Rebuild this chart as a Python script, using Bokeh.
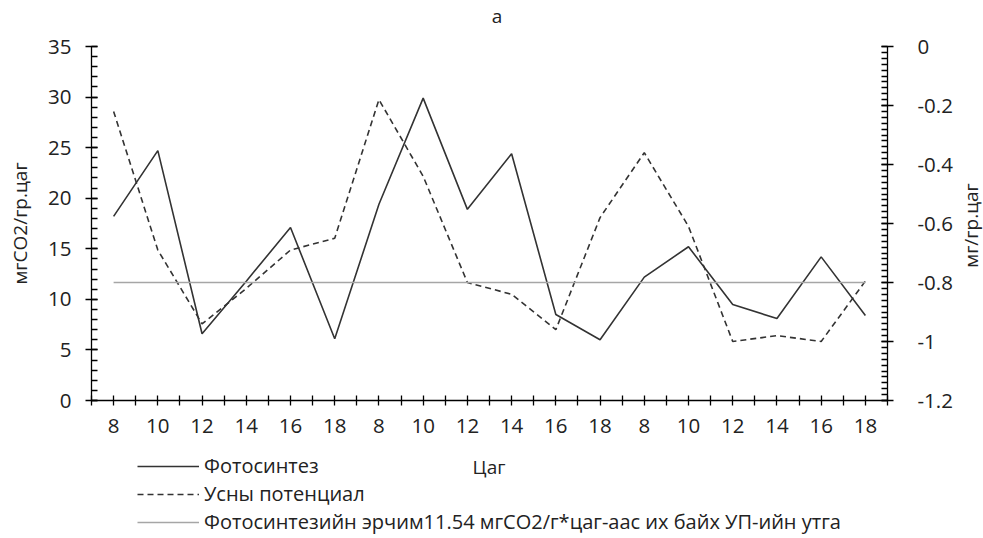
import math
import numpy as np
from bokeh.plotting import figure
from bokeh.layouts import column, row
from bokeh.models import (Range1d, LinearAxis, FixedTicker, CustomJSTickFormatter,
                          Legend, LegendItem, Label)
from bokeh.embed import file_html
from bokeh.resources import INLINE

# ---------------- data ----------------
hour_labels = ["8", "10", "12", "14", "16", "18",
               "8", "10", "12", "14", "16", "18",
               "8", "10", "12", "14", "16", "18"]
photosynthesis = [18.2, 24.7, 6.6, 11.8, 17.1, 6.1,
                  19.4, 29.9, 18.9, 24.4, 8.5, 6.0,
                  12.2, 15.2, 9.5, 8.1, 14.2, 8.4]
water_potential = [-0.22, -0.69, -0.94, -0.82, -0.69, -0.65,
                   -0.18, -0.44, -0.80, -0.84, -0.96, -0.58,
                   -0.36, -0.61, -1.00, -0.98, -1.00, -0.795]
threshold_wp = -0.8
left_ticks = [0, 5, 10, 15, 20, 25, 30, 35]
right_ticks = [0, -0.2, -0.4, -0.6, -0.8, -1.0, -1.2]

title_text = "а"
x_title = "Цаг"
left_title = "мгCO2/гр.цаг"
right_title = "мг/гр.цаг"
legend_labels = ["Фотосинтез", "Усны потенциал",
                 "Фотосинтезийн эрчим11.54 мгCO2/г*цаг-аас их байх УП-ийн утга"]

FONT = "Open Sans"
FS = "19px"
LFS = "20px"
TFS = "20.5px"
TXT = "#222222"
LINE = "#333333"
GRAY = "#a6a6a6"
DASH = "6 4"

n = len(hour_labels)
xs = np.arange(n) + 0.5


def strip(width, height, xr, yr):
    f = figure(width=width, height=height, output_backend="svg", toolbar_location=None,
               x_range=Range1d(*xr), y_range=Range1d(*yr),
               x_axis_location=None, y_axis_location=None, min_border=0,
               outline_line_color=None, background_fill_color="white",
               border_fill_color="white")
    f.xgrid.visible = False
    f.ygrid.visible = False
    return f


# ---------------- strip on top: chart title ----------------
t = strip(955, 28, (91, 890), (28, 0))
t.add_layout(Label(x=498, y=15, text=title_text, text_font=FONT, text_font_size=FS,
                   text_color=TXT, text_align="center", text_baseline="middle"))

# ---------------- main chart ----------------
p = figure(width=955, height=420, output_backend="svg", toolbar_location=None,
           x_range=Range1d(0, n), y_range=Range1d(0, 35),
           min_border_left=91, min_border_right=65, min_border_top=18,
           min_border_bottom=48, outline_line_color=None,
           background_fill_color="white", border_fill_color="white")
p.xgrid.visible = False
p.ygrid.visible = False
p.extra_y_ranges = {"wp": Range1d(-1.2, 0)}

p.line(xs, photosynthesis, line_color=LINE, line_width=1.6)
p.line(xs, water_potential, y_range_name="wp", line_color=LINE,
       line_width=1.6, line_dash=DASH)
p.line(xs, [threshold_wp] * n, y_range_name="wp", line_color=GRAY, line_width=1.6)


def style_axis(ax):
    ax.axis_line_color = "black"
    ax.axis_line_width = 1.3
    ax.major_tick_line_color = "black"
    ax.major_tick_line_width = 1.3
    ax.minor_tick_line_color = "black"
    ax.minor_tick_line_width = 1.3
    ax.major_label_text_font = FONT
    ax.major_label_text_font_size = TFS
    ax.major_label_text_color = TXT
    ax.axis_label_text_font = FONT
    ax.axis_label_text_font_size = FS
    ax.axis_label_text_font_style = "normal"
    ax.axis_label_text_color = TXT


# x axis
xa = p.xaxis[0]
xa.ticker = FixedTicker(ticks=list(xs), minor_ticks=list(range(0, n + 1)))
xa.formatter = CustomJSTickFormatter(
    args=dict(labels=hour_labels),
    code="const i = Math.floor(tick); return (i >= 0 && i < labels.length) ? labels[i] : '';")
style_axis(xa)
xa.major_tick_in = 5
xa.major_tick_out = 5
xa.minor_tick_in = 5
xa.minor_tick_out = 5
xa.major_label_standoff = 13

# left axis
ya = p.yaxis[0]
ya.ticker = FixedTicker(ticks=left_ticks, minor_ticks=list(range(0, 36)))
style_axis(ya)
ya.major_tick_in = 6
ya.major_tick_out = 6
ya.minor_tick_in = 6
ya.minor_tick_out = 0
ya.major_label_standoff = 14
ya.axis_label = left_title
ya.axis_label_standoff = 12

# right axis (its title is drawn in the narrow strip on the right)
ra = LinearAxis(y_range_name="wp",
                ticker=FixedTicker(ticks=right_ticks,
                                   minor_ticks=[round(-0.02 * i, 2) for i in range(61)]),
                formatter=CustomJSTickFormatter(code="return String(Math.round(tick * 10) / 10);"))
style_axis(ra)
ra.major_tick_in = 6
ra.major_tick_out = 6
ra.minor_tick_in = 6
ra.minor_tick_out = 0
ra.major_label_standoff = 24
p.add_layout(ra, "right")

# ---------------- strip below: axis title + legend ----------------
q = strip(955, 90, (91, 890), (538, 448))

# legend carriers (their data lie outside this strip's ranges, so only the legend shows)
g_photo = q.line(xs, photosynthesis, line_color=LINE, line_width=1.6)
g_wp = q.line(xs, water_potential, line_color=LINE, line_width=1.6, line_dash=DASH)
g_thr = q.line(xs, [threshold_wp] * n, line_color=GRAY, line_width=1.6)

legend = Legend(items=[LegendItem(label=legend_labels[0], renderers=[g_photo]),
                       LegendItem(label=legend_labels[1], renderers=[g_wp]),
                       LegendItem(label=legend_labels[2], renderers=[g_thr])],
                location=(46, 3), orientation="vertical",
                label_text_font=FONT, label_text_font_size=LFS, label_text_color=TXT,
                glyph_width=62, glyph_height=20, label_height=20, label_standoff=5,
                spacing=1, padding=0, margin=0,
                border_line_color=None, background_fill_alpha=0)
q.add_layout(legend)

q.add_layout(Label(x=490, y=466, text=x_title, text_font=FONT, text_font_size=FS,
                   text_color=TXT, text_align="center", text_baseline="middle"))

# ---------------- strip on the right: right axis title ----------------
r = strip(28, 538, (955, 983), (538, 0))
r.add_layout(Label(x=970, y=225, text=right_title, angle=math.pi / 2,
                   text_font=FONT, text_font_size=FS, text_color=TXT,
                   text_align="center", text_baseline="middle"))

layout = row(column(t, p, q, spacing=0), r, spacing=0)
open("out.html", "w").write(file_html(layout, INLINE))
